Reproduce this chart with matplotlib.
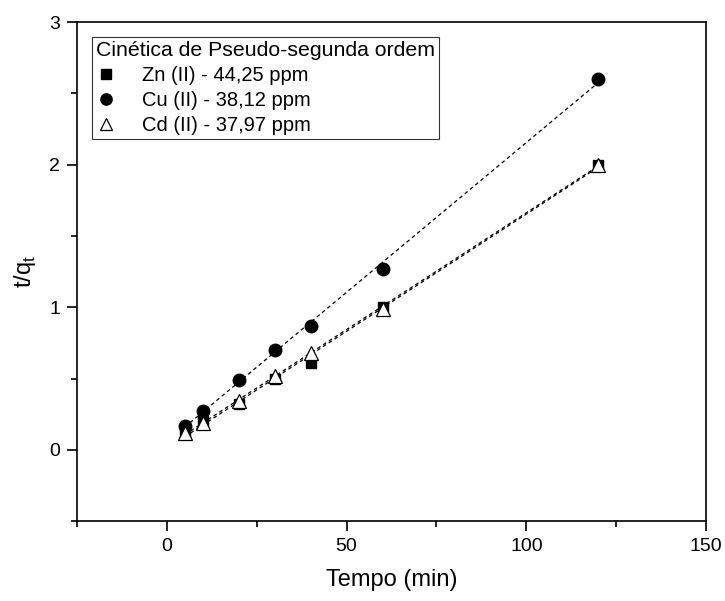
import numpy as np
import matplotlib
matplotlib.use('Agg')
import matplotlib.pyplot as plt
from matplotlib.ticker import MultipleLocator

plt.rcParams['font.family'] = ['Liberation Sans', 'DejaVu Sans']

tempo = [5, 10, 20, 30, 40, 60, 120]
zn = [0.12, 0.20, 0.32, 0.50, 0.61, 1.00, 2.00]
cu = [0.17, 0.27, 0.49, 0.70, 0.87, 1.27, 2.60]
cd = [0.12, 0.19, 0.34, 0.52, 0.68, 0.99, 2.00]
nomes = ['Zn (II) - 44,25 ppm', 'Cu (II) - 38,12 ppm', 'Cd (II) - 37,97 ppm']

fig = plt.figure(figsize=(7.25, 6.01), dpi=100)
ax = fig.add_axes([0.106, 0.133, 0.868, 0.830])

x = np.array(tempo)
xs = np.array([x.min(), x.max()])
for serie in [zn, cu, cd]:
    a, b = np.polyfit(x, serie, 1)
    ax.plot(xs, a * xs + b, color='black', lw=0.9, ls=(0, (3, 2.5)), zorder=1)

ax.plot(tempo, zn, ls='none', marker='s', ms=7.5, color='black', label=nomes[0], zorder=3)
ax.plot(tempo, cu, ls='none', marker='o', ms=9, color='black', label=nomes[1], zorder=3)
ax.plot(tempo, cd, ls='none', marker='^', ms=9.5, mfc='white', mec='black', mew=0.9,
        label=nomes[2], zorder=4)

ax.set_xlim(-25, 150)
ax.set_ylim(-0.5, 3)
ax.xaxis.set_major_locator(MultipleLocator(50))
ax.xaxis.set_minor_locator(MultipleLocator(25))
ax.yaxis.set_major_locator(MultipleLocator(1))
ax.yaxis.set_minor_locator(MultipleLocator(0.5))
ax.tick_params(which='major', direction='out', length=7, width=1.2, labelsize=14, pad=5)
ax.tick_params(which='minor', direction='out', length=4, width=1.2)
for s in ax.spines.values():
    s.set_linewidth(1.2)

ax.set_xlabel('Tempo (min)', fontsize=17, labelpad=10)
ax.set_ylabel('t/q$_\\mathregular{t}$', fontsize=17, labelpad=8)

leg = ax.legend(title='Cinética de Pseudo-segunda ordem', loc='upper left',
                bbox_to_anchor=(0.024, 0.97), fontsize=14.5, title_fontsize=15.3,
                frameon=True, fancybox=False, edgecolor='black', handlelength=1.0,
                handletextpad=1.3, borderpad=0.2, labelspacing=0.3, borderaxespad=0,
                markerscale=0.9)
leg._legend_box.align = 'left'
leg.get_frame().set_linewidth(0.8)

fig.savefig('out.png', dpi=100)
